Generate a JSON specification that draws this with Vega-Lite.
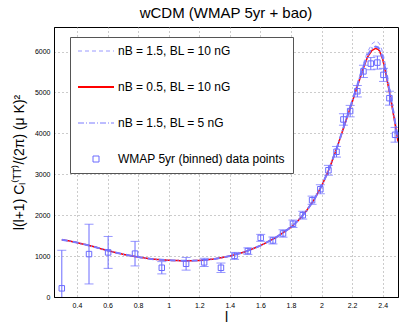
{
  "$schema": "https://vega.github.io/schema/vega-lite/v6.json",
  "width": 344,
  "height": 270,
  "autosize": {"type": "none"},
  "padding": {"left": 54, "top": 27, "right": 5, "bottom": 30},
  "title": {"text": "wCDM (WMAP 5yr + bao)", "fontSize": 15, "fontWeight": "normal", "font": "Liberation Sans", "offset": 6, "color": "#000"},
  "config": {
    "view": {"stroke": "#000", "strokeWidth": 1},
    "font": "Liberation Sans",
    "axis": {"domainColor": "#000", "labelColor": "#000", "labelFont": "Liberation Sans", "labelFontSize": 7, "labelOverlap": false, "gridDash": [1, 3], "gridColor": "#999", "gridOpacity": 1, "ticks": false, "titleFont": "Liberation Sans", "titleFontWeight": "normal", "titleColor": "#000", "labelPadding": 4}
  },
  "datasets": {
    "curves": [
      {"series": "nB = 1.5, BL = 10 nG", "x": 0.301, "y": 1400}, {"series": "nB = 1.5, BL = 10 nG", "x": 0.35, "y": 1370}, {"series": "nB = 1.5, BL = 10 nG", "x": 0.4, "y": 1330}, {"series": "nB = 1.5, BL = 10 nG", "x": 0.5, "y": 1240}, {"series": "nB = 1.5, BL = 10 nG", "x": 0.6, "y": 1135}, {"series": "nB = 1.5, BL = 10 nG", "x": 0.7, "y": 1045}, {"series": "nB = 1.5, BL = 10 nG", "x": 0.8, "y": 975}, {"series": "nB = 1.5, BL = 10 nG", "x": 0.9, "y": 925}, {"series": "nB = 1.5, BL = 10 nG", "x": 1.0, "y": 897}, {"series": "nB = 1.5, BL = 10 nG", "x": 1.1, "y": 885}, {"series": "nB = 1.5, BL = 10 nG", "x": 1.2, "y": 892}, {"series": "nB = 1.5, BL = 10 nG", "x": 1.3, "y": 930}, {"series": "nB = 1.5, BL = 10 nG", "x": 1.4, "y": 1000}, {"series": "nB = 1.5, BL = 10 nG", "x": 1.5, "y": 1105}, {"series": "nB = 1.5, BL = 10 nG", "x": 1.6, "y": 1255}, {"series": "nB = 1.5, BL = 10 nG", "x": 1.7, "y": 1450}, {"series": "nB = 1.5, BL = 10 nG", "x": 1.8, "y": 1705}, {"series": "nB = 1.5, BL = 10 nG", "x": 1.85, "y": 1880}, {"series": "nB = 1.5, BL = 10 nG", "x": 1.9, "y": 2100}, {"series": "nB = 1.5, BL = 10 nG", "x": 1.95, "y": 2370}, {"series": "nB = 1.5, BL = 10 nG", "x": 2.0, "y": 2710}, {"series": "nB = 1.5, BL = 10 nG", "x": 2.05, "y": 3130}, {"series": "nB = 1.5, BL = 10 nG", "x": 2.1, "y": 3650}, {"series": "nB = 1.5, BL = 10 nG", "x": 2.15, "y": 4230}, {"series": "nB = 1.5, BL = 10 nG", "x": 2.2, "y": 4820}, {"series": "nB = 1.5, BL = 10 nG", "x": 2.25, "y": 5420}, {"series": "nB = 1.5, BL = 10 nG", "x": 2.28, "y": 5780}, {"series": "nB = 1.5, BL = 10 nG", "x": 2.3, "y": 5990}, {"series": "nB = 1.5, BL = 10 nG", "x": 2.33, "y": 6190}, {"series": "nB = 1.5, BL = 10 nG", "x": 2.353, "y": 6250}, {"series": "nB = 1.5, BL = 10 nG", "x": 2.37, "y": 6230}, {"series": "nB = 1.5, BL = 10 nG", "x": 2.38, "y": 6180}, {"series": "nB = 1.5, BL = 10 nG", "x": 2.4, "y": 5990}, {"series": "nB = 1.5, BL = 10 nG", "x": 2.42, "y": 5650}, {"series": "nB = 1.5, BL = 10 nG", "x": 2.44, "y": 5240}, {"series": "nB = 1.5, BL = 10 nG", "x": 2.46, "y": 4820}, {"series": "nB = 1.5, BL = 10 nG", "x": 2.48, "y": 4370}, {"series": "nB = 1.5, BL = 10 nG", "x": 2.5, "y": 3900},

      {"series": "nB = 0.5, BL = 10 nG", "x": 0.301, "y": 1400}, {"series": "nB = 0.5, BL = 10 nG", "x": 0.35, "y": 1370}, {"series": "nB = 0.5, BL = 10 nG", "x": 0.4, "y": 1330}, {"series": "nB = 0.5, BL = 10 nG", "x": 0.5, "y": 1240}, {"series": "nB = 0.5, BL = 10 nG", "x": 0.6, "y": 1135}, {"series": "nB = 0.5, BL = 10 nG", "x": 0.7, "y": 1045}, {"series": "nB = 0.5, BL = 10 nG", "x": 0.8, "y": 975}, {"series": "nB = 0.5, BL = 10 nG", "x": 0.9, "y": 925}, {"series": "nB = 0.5, BL = 10 nG", "x": 1.0, "y": 897}, {"series": "nB = 0.5, BL = 10 nG", "x": 1.1, "y": 885}, {"series": "nB = 0.5, BL = 10 nG", "x": 1.2, "y": 892}, {"series": "nB = 0.5, BL = 10 nG", "x": 1.3, "y": 930}, {"series": "nB = 0.5, BL = 10 nG", "x": 1.4, "y": 1000}, {"series": "nB = 0.5, BL = 10 nG", "x": 1.5, "y": 1105}, {"series": "nB = 0.5, BL = 10 nG", "x": 1.6, "y": 1255}, {"series": "nB = 0.5, BL = 10 nG", "x": 1.7, "y": 1450}, {"series": "nB = 0.5, BL = 10 nG", "x": 1.8, "y": 1705}, {"series": "nB = 0.5, BL = 10 nG", "x": 1.85, "y": 1880}, {"series": "nB = 0.5, BL = 10 nG", "x": 1.9, "y": 2100}, {"series": "nB = 0.5, BL = 10 nG", "x": 1.95, "y": 2370}, {"series": "nB = 0.5, BL = 10 nG", "x": 2.0, "y": 2710}, {"series": "nB = 0.5, BL = 10 nG", "x": 2.05, "y": 3130}, {"series": "nB = 0.5, BL = 10 nG", "x": 2.1, "y": 3640}, {"series": "nB = 0.5, BL = 10 nG", "x": 2.15, "y": 4200}, {"series": "nB = 0.5, BL = 10 nG", "x": 2.2, "y": 4760}, {"series": "nB = 0.5, BL = 10 nG", "x": 2.25, "y": 5330}, {"series": "nB = 0.5, BL = 10 nG", "x": 2.28, "y": 5660}, {"series": "nB = 0.5, BL = 10 nG", "x": 2.3, "y": 5860}, {"series": "nB = 0.5, BL = 10 nG", "x": 2.33, "y": 6030}, {"series": "nB = 0.5, BL = 10 nG", "x": 2.353, "y": 6075}, {"series": "nB = 0.5, BL = 10 nG", "x": 2.37, "y": 6055}, {"series": "nB = 0.5, BL = 10 nG", "x": 2.38, "y": 6010}, {"series": "nB = 0.5, BL = 10 nG", "x": 2.4, "y": 5810}, {"series": "nB = 0.5, BL = 10 nG", "x": 2.42, "y": 5470}, {"series": "nB = 0.5, BL = 10 nG", "x": 2.44, "y": 5080}, {"series": "nB = 0.5, BL = 10 nG", "x": 2.46, "y": 4680}, {"series": "nB = 0.5, BL = 10 nG", "x": 2.48, "y": 4250}, {"series": "nB = 0.5, BL = 10 nG", "x": 2.5, "y": 3800},

      {"series": "nB = 1.5, BL = 5 nG", "x": 0.301, "y": 1400}, {"series": "nB = 1.5, BL = 5 nG", "x": 0.35, "y": 1370}, {"series": "nB = 1.5, BL = 5 nG", "x": 0.4, "y": 1330}, {"series": "nB = 1.5, BL = 5 nG", "x": 0.5, "y": 1240}, {"series": "nB = 1.5, BL = 5 nG", "x": 0.6, "y": 1135}, {"series": "nB = 1.5, BL = 5 nG", "x": 0.7, "y": 1045}, {"series": "nB = 1.5, BL = 5 nG", "x": 0.8, "y": 975}, {"series": "nB = 1.5, BL = 5 nG", "x": 0.9, "y": 925}, {"series": "nB = 1.5, BL = 5 nG", "x": 1.0, "y": 897}, {"series": "nB = 1.5, BL = 5 nG", "x": 1.1, "y": 885}, {"series": "nB = 1.5, BL = 5 nG", "x": 1.2, "y": 892}, {"series": "nB = 1.5, BL = 5 nG", "x": 1.3, "y": 930}, {"series": "nB = 1.5, BL = 5 nG", "x": 1.4, "y": 1000}, {"series": "nB = 1.5, BL = 5 nG", "x": 1.5, "y": 1105}, {"series": "nB = 1.5, BL = 5 nG", "x": 1.6, "y": 1255}, {"series": "nB = 1.5, BL = 5 nG", "x": 1.7, "y": 1450}, {"series": "nB = 1.5, BL = 5 nG", "x": 1.8, "y": 1705}, {"series": "nB = 1.5, BL = 5 nG", "x": 1.85, "y": 1880}, {"series": "nB = 1.5, BL = 5 nG", "x": 1.9, "y": 2100}, {"series": "nB = 1.5, BL = 5 nG", "x": 1.95, "y": 2370}, {"series": "nB = 1.5, BL = 5 nG", "x": 2.0, "y": 2710}, {"series": "nB = 1.5, BL = 5 nG", "x": 2.05, "y": 3130}, {"series": "nB = 1.5, BL = 5 nG", "x": 2.1, "y": 3645}, {"series": "nB = 1.5, BL = 5 nG", "x": 2.15, "y": 4210}, {"series": "nB = 1.5, BL = 5 nG", "x": 2.2, "y": 4780}, {"series": "nB = 1.5, BL = 5 nG", "x": 2.25, "y": 5360}, {"series": "nB = 1.5, BL = 5 nG", "x": 2.28, "y": 5700}, {"series": "nB = 1.5, BL = 5 nG", "x": 2.3, "y": 5900}, {"series": "nB = 1.5, BL = 5 nG", "x": 2.33, "y": 6080}, {"series": "nB = 1.5, BL = 5 nG", "x": 2.353, "y": 6120}, {"series": "nB = 1.5, BL = 5 nG", "x": 2.37, "y": 6100}, {"series": "nB = 1.5, BL = 5 nG", "x": 2.38, "y": 6055}, {"series": "nB = 1.5, BL = 5 nG", "x": 2.4, "y": 5860}, {"series": "nB = 1.5, BL = 5 nG", "x": 2.42, "y": 5520}, {"series": "nB = 1.5, BL = 5 nG", "x": 2.44, "y": 5130}, {"series": "nB = 1.5, BL = 5 nG", "x": 2.46, "y": 4720}, {"series": "nB = 1.5, BL = 5 nG", "x": 2.48, "y": 4290}, {"series": "nB = 1.5, BL = 5 nG", "x": 2.5, "y": 3840}
    ],
    "wmap": [
      {"series": "WMAP 5yr (binned) data points", "x": 0.301, "y": 212, "err": 930},
      {"series": "WMAP 5yr (binned) data points", "x": 0.479, "y": 1049, "err": 730},
      {"series": "WMAP 5yr (binned) data points", "x": 0.604, "y": 1090, "err": 390},
      {"series": "WMAP 5yr (binned) data points", "x": 0.78, "y": 1060, "err": 300},
      {"series": "WMAP 5yr (binned) data points", "x": 0.955, "y": 715, "err": 150},
      {"series": "WMAP 5yr (binned) data points", "x": 1.114, "y": 812, "err": 155},
      {"series": "WMAP 5yr (binned) data points", "x": 1.232, "y": 846, "err": 100},
      {"series": "WMAP 5yr (binned) data points", "x": 1.342, "y": 715, "err": 115},
      {"series": "WMAP 5yr (binned) data points", "x": 1.431, "y": 1005, "err": 85},
      {"series": "WMAP 5yr (binned) data points", "x": 1.518, "y": 1122, "err": 80},
      {"series": "WMAP 5yr (binned) data points", "x": 1.602, "y": 1446, "err": 85},
      {"series": "WMAP 5yr (binned) data points", "x": 1.682, "y": 1382, "err": 85},
      {"series": "WMAP 5yr (binned) data points", "x": 1.748, "y": 1553, "err": 90},
      {"series": "WMAP 5yr (binned) data points", "x": 1.813, "y": 1790, "err": 90},
      {"series": "WMAP 5yr (binned) data points", "x": 1.877, "y": 2000, "err": 95},
      {"series": "WMAP 5yr (binned) data points", "x": 1.938, "y": 2366, "err": 100},
      {"series": "WMAP 5yr (binned) data points", "x": 1.992, "y": 2634, "err": 110},
      {"series": "WMAP 5yr (binned) data points", "x": 2.045, "y": 3098, "err": 120},
      {"series": "WMAP 5yr (binned) data points", "x": 2.098, "y": 3550, "err": 130},
      {"series": "WMAP 5yr (binned) data points", "x": 2.143, "y": 4340, "err": 140},
      {"series": "WMAP 5yr (binned) data points", "x": 2.187, "y": 4544, "err": 140},
      {"series": "WMAP 5yr (binned) data points", "x": 2.234, "y": 5030, "err": 140},
      {"series": "WMAP 5yr (binned) data points", "x": 2.274, "y": 5515, "err": 150},
      {"series": "WMAP 5yr (binned) data points", "x": 2.322, "y": 5705, "err": 150},
      {"series": "WMAP 5yr (binned) data points", "x": 2.365, "y": 5730, "err": 160},
      {"series": "WMAP 5yr (binned) data points", "x": 2.405, "y": 5430, "err": 160},
      {"series": "WMAP 5yr (binned) data points", "x": 2.444, "y": 4860, "err": 170},
      {"series": "WMAP 5yr (binned) data points", "x": 2.481, "y": 3965, "err": 180}
    ]
  },
  "encoding": {
    "x": {"field": "x", "type": "quantitative", "scale": {"domain": [0.25, 2.5], "nice": false, "zero": false},
          "axis": {"title": "l", "titleFontSize": 14, "titlePadding": 2, "values": [0.4, 0.6, 0.8, 1, 1.2, 1.4, 1.6, 1.8, 2, 2.2, 2.4], "format": "~g"}},
    "y": {"field": "y", "type": "quantitative", "scale": {"domain": [0, 6600], "nice": false},
          "axis": {"title": "l(l+1) Cₗ⁽ᵀᵀ⁾/(2π) (μ K)²", "titleFontSize": 14, "titlePadding": 8, "values": [0, 1000, 2000, 3000, 4000, 5000, 6000], "format": "d"}}
  },
  "layer": [
    {
      "data": {"name": "curves"},
      "mark": {"type": "line", "clip": true},
      "encoding": {
        "color": {"field": "series", "type": "nominal",
          "scale": {"domain": ["nB = 1.5, BL = 10 nG", "nB = 0.5, BL = 10 nG", "nB = 1.5, BL = 5 nG", "WMAP 5yr (binned) data points"], "range": ["#9a9aff", "#ff0000", "#7a7aff", "#6b6bff"]},
          "legend": {
            "title": null, "orient": "none", "legendX": 16, "legendY": 10,
            "symbolType": "stroke", "symbolSize": 1296, "symbolStrokeWidth": 1,
            "labelFontSize": 12, "labelFont": "Liberation Sans", "labelColor": "#000", "labelLimit": 300, "labelOffset": 5,
            "strokeColor": "#555", "fillColor": "#fff", "padding": 8, "rowPadding": 24,
            "encode": {
              "symbols": {"update": {
                "x": {"value": 18},
                "shape": {"signal": "datum.value === 'WMAP 5yr (binned) data points' ? 'square' : 'stroke'"},
                "size": {"signal": "datum.value === 'WMAP 5yr (binned) data points' ? 36 : 1296"},
                "strokeDash": {"signal": "datum.value === 'nB = 1.5, BL = 10 nG' ? [4,3] : (datum.value === 'nB = 1.5, BL = 5 nG' ? [6,2,1,2] : [1,0])"},
                "strokeWidth": {"signal": "datum.value === 'nB = 0.5, BL = 10 nG' ? 2 : 1"},
                "fill": {"value": "transparent"}
              }},
              "labels": {"update": {"x": {"value": 40}}}
            }
          }},
        "strokeDash": {"field": "series", "type": "nominal", "legend": null,
          "scale": {"domain": ["nB = 1.5, BL = 10 nG", "nB = 0.5, BL = 10 nG", "nB = 1.5, BL = 5 nG"], "range": [[4, 3], [1, 0], [6, 2, 1, 2]]}},
        "strokeWidth": {"field": "series", "type": "nominal", "legend": null,
          "scale": {"domain": ["nB = 1.5, BL = 10 nG", "nB = 0.5, BL = 10 nG", "nB = 1.5, BL = 5 nG"], "range": [1, 2, 1]}}
      }
    },
    {
      "data": {"name": "wmap"},
      "mark": {"type": "errorbar", "ticks": {"size": 9}, "clip": true, "color": "#6b6bff"},
      "encoding": {
        "yError": {"field": "err"}
      }
    },
    {
      "data": {"name": "wmap"},
      "mark": {"type": "point", "shape": "square", "size": 30, "filled": false, "strokeWidth": 1, "opacity": 1},
      "encoding": {
        "color": {"field": "series", "type": "nominal"}
      }
    }
  ]
}
